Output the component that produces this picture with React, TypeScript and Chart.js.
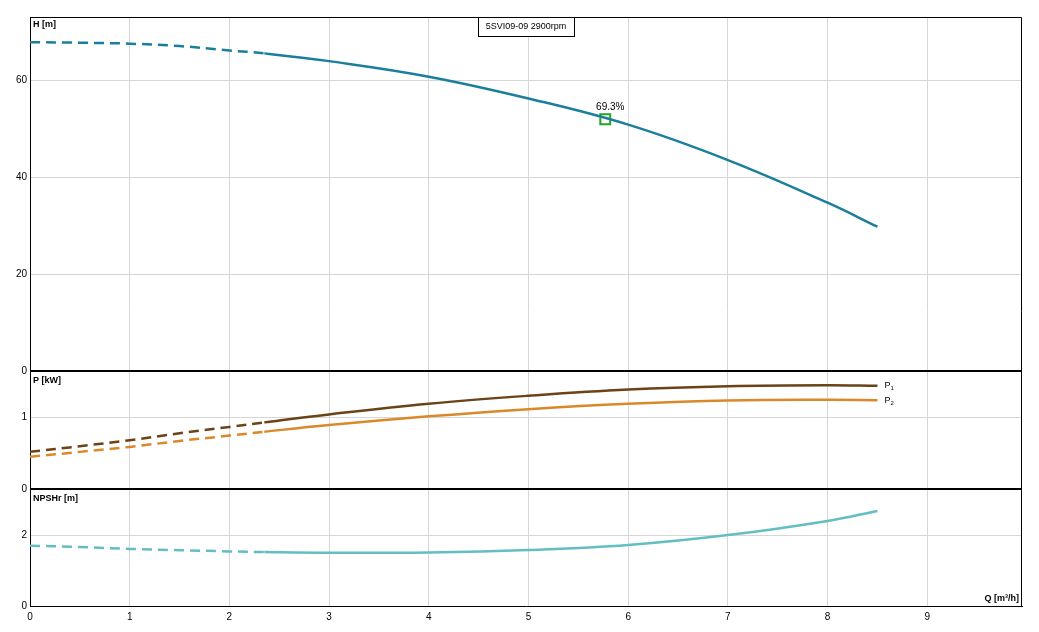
import { useEffect, useRef } from "react";
import { Chart, registerables } from "chart.js";

Chart.register(...registerables);

// ---- data ----
const flowQ = [0, 0.5, 1, 1.5, 2, 2.35, 3, 4, 5, 6, 7, 8, 8.5];
const headH = [67.8, 67.7, 67.5, 67.0, 66.1, 65.5, 63.9, 60.7, 56.2, 50.8, 43.5, 34.7, 29.75];
const powerP1 = [0.516, 0.595, 0.678, 0.775, 0.862, 0.926, 1.037, 1.185, 1.296, 1.383, 1.429, 1.443, 1.434];
const powerP2 = [0.447, 0.516, 0.585, 0.668, 0.742, 0.796, 0.889, 1.01, 1.11, 1.185, 1.231, 1.24, 1.235];
const npshR = [1.7, 1.665, 1.61, 1.575, 1.54, 1.52, 1.5, 1.51, 1.58, 1.72, 2.0, 2.4, 2.68];
const dashEnd = 2.35; // curves are dashed up to this flow
const bepQ = [5.77];
const bepH = [51.9];
const bepLabel = "69.3%";
const chartTitle = "5SVI09-09 2900rpm";
const xTicksMax = 9.95;
const hMax = 73;
const pMax = 1.64;
const nMax = 3.3;
const hStep = 20;
const pStep = 1;
const nStep = 2;
const axisTitles = { h: "H [m]", p: "P [kW]", n: "NPSHr [m]", q: "Q [m³/h]" };
const seriesNames = ["P", "P"];
const seriesSubs = ["1", "2"];

const FONT = "'Liberation Sans', Arial, sans-serif";

const pts = (ys: number[]) => flowQ.map((x, i) => ({ x, y: ys[i] }));

const dashSeg = {
  borderDash: (ctx: any) => (ctx.p1.parsed.x <= dashEnd + 1e-9 ? [10, 6] : undefined),
};

const overlayPlugin = {
  id: "overlay",
  afterDraw(chart: any) {
    const { ctx, chartArea } = chart;
    const { left, right, top, bottom } = chartArea;
    ctx.save();
    // frame (top + right)
    ctx.strokeStyle = "#000";
    ctx.lineWidth = 1;
    ctx.beginPath();
    ctx.moveTo(left, top + 0.5);
    ctx.lineTo(right - 0.5, top + 0.5);
    ctx.lineTo(right - 0.5, bottom);
    ctx.stroke();

    // title box
    ctx.font = `9px ${FONT}`;
    const tw = ctx.measureText(chartTitle).width;
    const bw = tw + 15;
    const bh = 19;
    const cx = (left + right) / 2;
    ctx.fillStyle = "#fff";
    ctx.fillRect(cx - bw / 2, top, bw, bh);
    ctx.strokeRect(Math.round(cx - bw / 2) + 0.5, top + 0.5, Math.round(bw), bh);
    ctx.fillStyle = "#000";
    ctx.textAlign = "center";
    ctx.textBaseline = "middle";
    ctx.fillText(chartTitle, cx, top + bh / 2 + 0.5);

    // axis titles
    const yH = chart.scales.yH;
    const yP = chart.scales.yP;
    const yN = chart.scales.yN;
    ctx.font = `bold 9px ${FONT}`;
    ctx.textAlign = "left";
    ctx.fillText(axisTitles.h, left + 3, yH.top + 8);
    ctx.fillText(axisTitles.p, left + 3, yP.top + 10);
    ctx.fillText(axisTitles.n, left + 3, yN.top + 10);
    ctx.textAlign = "right";
    ctx.fillText(axisTitles.q, right - 3, bottom - 7);

    // curve end labels
    [1, 2].forEach((di, k) => {
      const meta = chart.getDatasetMeta(di);
      const last = meta.data[meta.data.length - 1];
      if (!last) return;
      ctx.textAlign = "left";
      ctx.font = `9px ${FONT}`;
      ctx.fillText(seriesNames[k], last.x + 7, last.y);
      const w = ctx.measureText(seriesNames[k]).width;
      ctx.font = `6px ${FONT}`;
      ctx.fillText(seriesSubs[k], last.x + 7 + w, last.y + 3);
    });

    // efficiency label
    const bm = chart.getDatasetMeta(4);
    const p = bm.data[0];
    if (p) {
      ctx.font = `10px ${FONT}`;
      ctx.textAlign = "center";
      ctx.fillText(bepLabel, p.x + 5, p.y - 12);
    }
    ctx.restore();
  },
};

const gridColor = "#d6d6d6";

export default function App() {
  const ref = useRef<HTMLCanvasElement | null>(null);

  useEffect(() => {
    if (!ref.current) return;
    const yBase = (min: number, max: number, step: number, weight: number, sep: boolean) => ({
      type: "linear" as const,
      position: "left" as const,
      stack: "pump",
      stackWeight: weight,
      min,
      max,
      offset: false,
      ticks: {
        stepSize: step,
        includeBounds: false,
        color: "#000",
        font: { family: FONT, size: 10 },
        padding: 3,
      },
      grid: {
        drawTicks: false,
        color: (c: any) => (sep && c.tick && c.tick.value === 0 ? "#000" : gridColor),
        lineWidth: (c: any) => (sep && c.tick && c.tick.value === 0 ? 2 : 1),
      },
      border: { color: "#000", width: 1 },
      afterFit: (s: any) => {
        s.width = 30;
      },
    });

    const lineDs = (label: string, ys: number[], axis: string, color: string) => ({
      label,
      data: pts(ys),
      yAxisID: axis,
      borderColor: color,
      borderWidth: 2.5,
      pointRadius: 0,
      tension: 0.4,
      segment: dashSeg,
    });

    const chart = new Chart(ref.current, {
      type: "line",
      data: {
        datasets: [
          lineDs("H", headH, "yH", "#1b7f9b"),
          lineDs("P1", powerP1, "yP", "#6a4316"),
          lineDs("P2", powerP2, "yP", "#d9892a"),
          lineDs("NPSHr", npshR, "yN", "#62bec2"),
          {
            label: "BEP",
            data: bepQ.map((x, i) => ({ x, y: bepH[i] })),
            yAxisID: "yH",
            showLine: false,
            pointStyle: "rect",
            pointRadius: 7,
            borderColor: "#22a522",
            backgroundColor: "rgba(0,0,0,0)",
            borderWidth: 2,
          },
        ],
      },
      options: {
        animation: false,
        responsive: true,
        maintainAspectRatio: false,
        layout: { padding: { top: 17, right: 17, left: 0, bottom: 0 } },
        plugins: { legend: { display: false }, tooltip: { enabled: false }, title: { display: false } },
        events: [],
        scales: {
          x: {
            type: "linear",
            position: "bottom",
            min: 0,
            max: xTicksMax,
            ticks: {
              stepSize: 1,
              includeBounds: false,
              color: "#000",
              font: { family: FONT, size: 10 },
              padding: 5,
              maxRotation: 0,
            },
            grid: { drawTicks: false, color: gridColor },
            border: { color: "#000", width: 1 },
            afterFit: (s: any) => {
              s.height = 26;
            },
          },
          yN: yBase(0, nMax, nStep, 117, false),
          yP: yBase(0, pMax, pStep, 118, true),
          yH: yBase(0, hMax, hStep, 354, true),
        } as any,
      },
      plugins: [overlayPlugin],
    } as any);
    return () => chart.destroy();
  }, []);

  return (
    <div style={{ position: "fixed", left: 0, top: 0, width: 1039, height: 632, background: "#fff" }}>
      <canvas ref={ref} />
    </div>
  );
}
